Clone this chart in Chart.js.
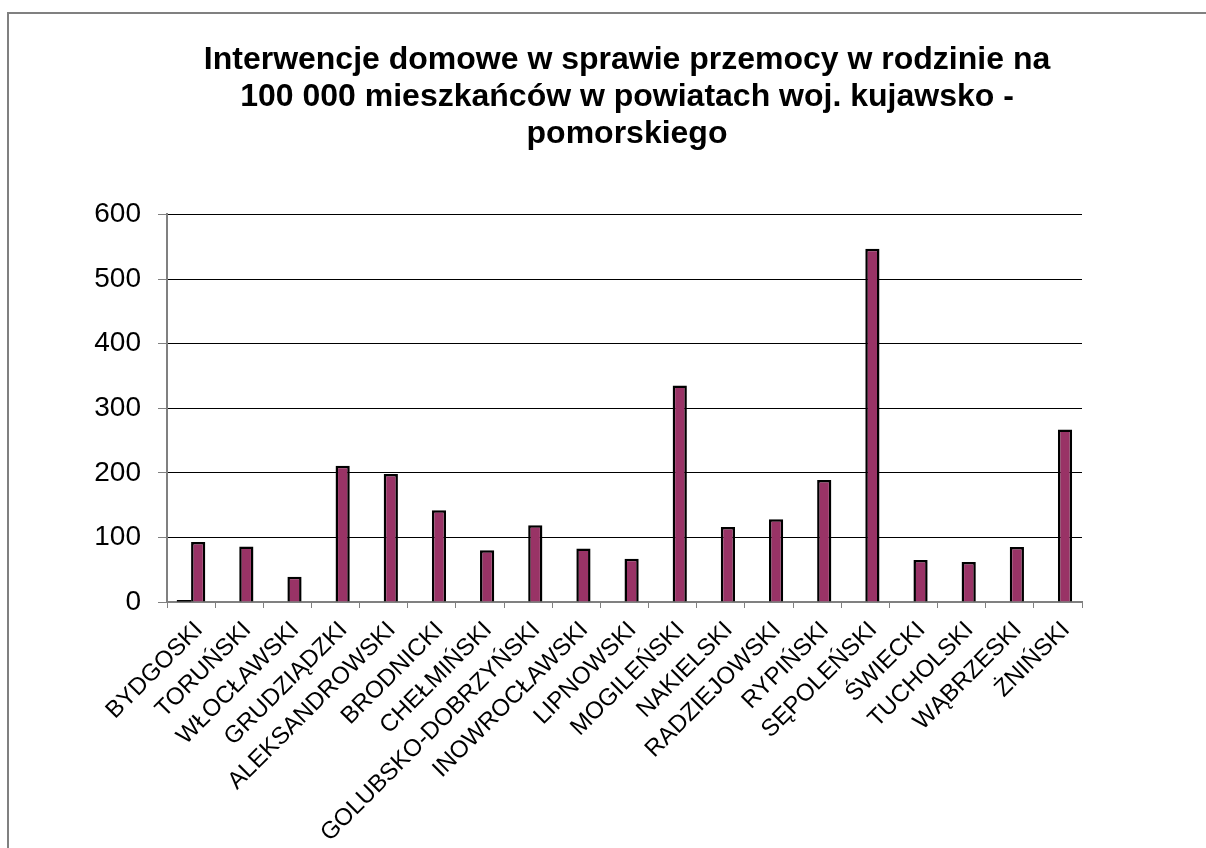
<!DOCTYPE html>
<html lang="pl">
<head>
<meta charset="utf-8">
<title>Interwencje domowe</title>
<script src="https://cdn.jsdelivr.net/npm/chart.js@4"></script>
<style>
    html, body { margin: 0; padding: 0; background: #fff; overflow: hidden; }
    .frame {
        position: absolute; left: 7px; top: 12px; width: 1400px; height: 1000px;
        border-left: 2px solid #808080; border-top: 2px solid #808080;
    }
    .wrap { position: absolute; left: 0; top: 0; width: 1206px; height: 848px; }
</style>
</head>
<body>
<div class="frame"></div>
<div class="wrap"><canvas id="chart" width="1206" height="848"></canvas></div>
<script>
// Dane z wykresu
const categories = [
    'BYDGOSKI', 'TORUŃSKI', 'WŁOCŁAWSKI', 'GRUDZIĄDZKI', 'ALEKSANDROWSKI', 'BRODNICKI',
    'CHEŁMIŃSKI', 'GOLUBSKO-DOBRZYŃSKI', 'INOWROCŁAWSKI', 'LIPNOWSKI', 'MOGILEŃSKI',
    'NAKIELSKI', 'RADZIEJOWSKI', 'RYPIŃSKI', 'SĘPOLEŃSKI', 'ŚWIECKI', 'TUCHOLSKI',
    'WĄBRZESKI', 'ŻNIŃSKI'
];
// pierwsza seria - prawie pusta (tylko kreska przy BYDGOSKI)
const firstSeries = [3, null, null, null, null, null, null, null, null, null,
                     null, null, null, null, null, null, null, null, null];
const values = [93, 86, 39, 211, 198, 142, 80, 119, 83, 67, 335,
                116, 128, 189, 547, 65, 62, 85, 267];
const yTicks = [0, 100, 200, 300, 400, 500, 600];

const fontFamily = '"Liberation Sans", Arial, sans-serif';
const barColor = '#993366';

const ctx = document.getElementById('chart').getContext('2d');
new Chart(ctx, {
    type: 'bar',
    data: {
        labels: categories,
        datasets: [
            {
                data: firstSeries,
                backgroundColor: '#000',
                borderColor: '#000',
                borderWidth: 0
            },
            {
                data: values,
                backgroundColor: barColor,
                borderColor: '#000',
                borderWidth: 2.5,
                borderSkipped: 'start'
            }
        ]
    },
    options: {
        responsive: false,
        animation: false,
        events: [],
        layout: { padding: { left: 48, right: 0, top: 0, bottom: 0 } },
        datasets: { bar: { categoryPercentage: 0.59, barPercentage: 1 } },
        plugins: {
            legend: { display: false },
            tooltip: { enabled: false },
            title: {
                display: true,
                text: ['Interwencje domowe w sprawie przemocy w rodzinie na',
                       '100 000 mieszkańców w powiatach woj. kujawsko -',
                       'pomorskiego'],
                color: '#000',
                font: { family: fontFamily, size: 32, weight: 'bold', lineHeight: 1.15 },
                padding: { top: 42, bottom: 62 }
            }
        },
        scales: {
            x: {
                grid: {
                    display: true,
                    drawOnChartArea: false,
                    tickLength: 6,
                    color: '#808080',
                    offset: true
                },
                border: { display: true, color: '#808080', width: 2 },
                ticks: {
                    color: '#000',
                    font: { family: fontFamily, size: 24 },
                    minRotation: 45,
                    maxRotation: 45,
                    autoSkip: false,
                    padding: 8,
                    labelOffset: 8
                },
                afterFit: function(scale) { scale.height = 246; }
            },
            y: {
                min: 0,
                max: 600,
                afterBuildTicks: function(scale) {
                    scale.ticks = yTicks.map(v => ({ value: v }));
                },
                grid: {
                    color: '#000',
                    lineWidth: 1,
                    tickLength: 9,
                    tickColor: '#808080'
                },
                border: { display: true, color: '#808080', width: 2 },
                ticks: {
                    color: '#000',
                    font: { family: fontFamily, size: 28 },
                    padding: 17
                },
                afterFit: function(scale) { scale.width = 119; }
            },
            // pusta oś po prawej - tylko rezerwuje miejsce
            yRight: {
                position: 'right',
                display: true,
                grid: { display: false, drawOnChartArea: false },
                border: { display: false },
                ticks: { display: false },
                afterFit: function(scale) { scale.width = 124; }
            }
        }
    }
});
</script>
</body>
</html>
